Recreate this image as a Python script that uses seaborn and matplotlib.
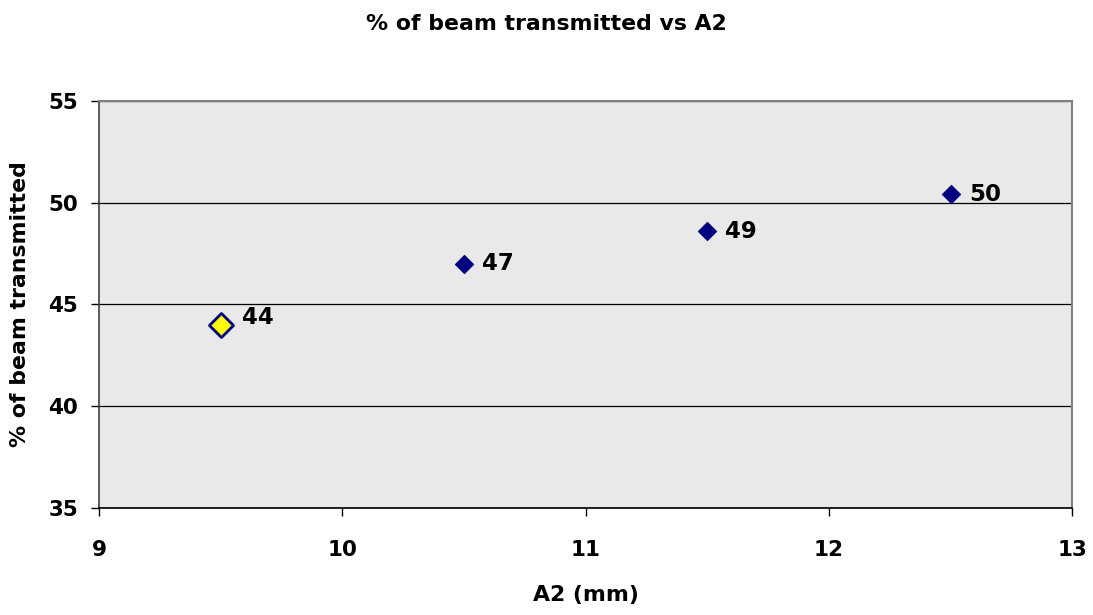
import matplotlib
matplotlib.use("Agg")
import matplotlib.pyplot as plt
import seaborn as sns
import pandas as pd

# A2 aperture (mm) against percentage of beam transmitted
a2_mm = [9.5, 10.5, 11.5, 12.5]
transmitted = [44.0, 47.0, 48.6, 50.4]
highlight = [True, False, False, False]

x_ticks = [9, 10, 11, 12, 13]
y_ticks = [35, 40, 45, 50, 55]

df = pd.DataFrame({"a2": a2_mm, "pct": transmitted, "hl": highlight})

sns.set_theme(style="white")
plt.rcParams["font.family"] = ["DejaVu Sans"]
plt.rcParams["font.weight"] = "bold"
plt.rcParams["text.color"] = "black"
plt.rcParams["axes.labelcolor"] = "black"
plt.rcParams["xtick.color"] = "black"
plt.rcParams["ytick.color"] = "black"

fig = plt.figure(figsize=(10.93, 6.15), dpi=100)
ax = fig.add_axes([0.0906, 0.174, 0.8905, 0.662])
ax.set_facecolor("#e9e9e9")

sns.scatterplot(data=df[~df["hl"]], x="a2", y="pct", marker="D", s=85,
                color="#000080", edgecolor="#000080", linewidth=0.8, ax=ax, zorder=3)
sns.scatterplot(data=df[df["hl"]], x="a2", y="pct", marker="D", s=150,
                color="#ffff00", edgecolor="#000080", linewidth=2, ax=ax, zorder=3)

for xv, yv, hl in zip(a2_mm, transmitted, highlight):
    ax.annotate(f"{yv:.0f}", (xv, yv), xytext=(15 if hl else 13, 5 if hl else 0),
                textcoords="offset points", ha="left", va="center",
                fontsize=16.5, fontweight="bold", color="black")

ax.set_xlim(9, 13)
ax.set_ylim(35, 55)
ax.set_xticks(x_ticks)
ax.set_yticks(y_ticks)
ax.set_xticklabels([str(v) for v in x_ticks], fontsize=15.5, fontweight="bold")
ax.set_yticklabels([str(v) for v in y_ticks], fontsize=15.5, fontweight="bold")
ax.yaxis.grid(True, color="black", linewidth=0.9)
ax.xaxis.grid(False)
ax.set_axisbelow(True)

ax.tick_params(axis="both", direction="out", length=6, width=1, color="black",
               bottom=True, left=True)
ax.tick_params(axis="y", pad=9)
ax.tick_params(axis="x", pad=17)

for side in ["top", "right"]:
    ax.spines[side].set_color("#808080")
    ax.spines[side].set_linewidth(1.5)
ax.spines["left"].set_color("#404040")
ax.spines["left"].set_linewidth(1.2)
ax.spines["bottom"].set_color("black")
ax.spines["bottom"].set_linewidth(1.2)

ax.set_xlabel("A2 (mm)", fontsize=15.8, fontweight="bold", labelpad=18)
ax.set_ylabel("% of beam transmitted", fontsize=15.8, fontweight="bold", labelpad=13)
fig.suptitle("% of beam transmitted vs A2", fontsize=15.8, fontweight="bold", y=0.978)

fig.savefig("out.png", dpi=100)
